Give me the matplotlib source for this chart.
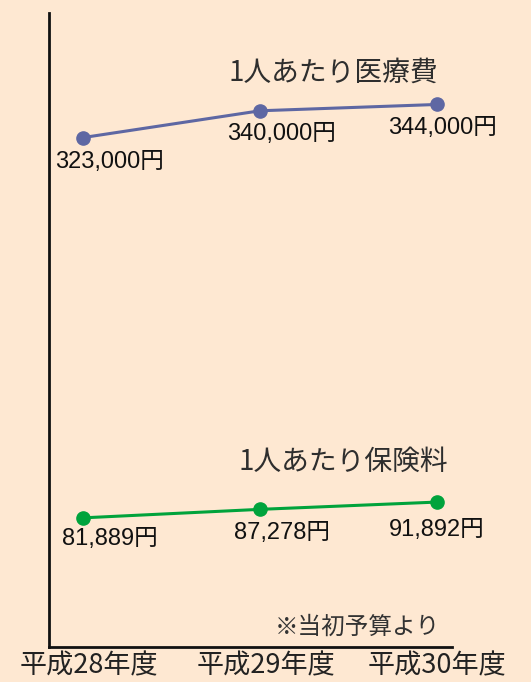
import matplotlib
matplotlib.use("Agg")
import matplotlib.pyplot as plt

years = ["平成28年度", "平成29年度", "平成30年度"]
medical = [323000, 340000, 344000]
premium = [81889, 87278, 91892]
medical_title = "1人あたり医療費"
premium_title = "1人あたり保険料"
note = "※当初予算より"

W, H = 531, 682
BG = "#FEE8D2"
fig = plt.figure(figsize=(W / 100, H / 100), dpi=100, facecolor=BG)
ax = fig.add_axes([49 / W, 35 / H, (452 - 49) / W, (647 - 13) / H])
ax.set_facecolor(BG)

x = list(range(len(years)))
ax.plot(x, medical, color="#5E67A3", lw=2.2, marker="o", ms=9.5, zorder=3)
ax.plot(x, premium, color="#00A33C", lw=2.2, marker="o", ms=9.5, zorder=3)

ax.set_xlim(-0.192, 2.085)
ax.set_ylim(0, 402000)

for s in ["top", "right"]:
    ax.spines[s].set_visible(False)
for s in ["left", "bottom"]:
    ax.spines[s].set_color("#111111")
    ax.spines[s].set_linewidth(2.0)
ax.set_yticks([])
ax.set_xticks([])

num_font = ["Liberation Sans", "Noto Sans CJK JP"]
med_off = [(27, -24), (22, -23), (6, -24)]
pre_off = [(27, -21), (22, -24), (0, -28)]
for xi, v, off in zip(x, medical, med_off):
    ax.annotate(f"{v:,}円", (xi, v), xytext=off, textcoords="offset pixels",
                ha="center", va="center", fontsize=17, family=num_font, color="#111111")
for xi, v, off in zip(x, premium, pre_off):
    ax.annotate(f"{v:,}円", (xi, v), xytext=off, textcoords="offset pixels",
                ha="center", va="center", fontsize=17, family=num_font, color="#111111")

cjk = ["Noto Sans CJK JP", "DejaVu Sans"]
fig.text(333 / W, 1 - 73 / H, medical_title, ha="center", va="center",
         fontsize=20, family=cjk, color="#2E2E2E")
fig.text(343 / W, 1 - 461.5 / H, premium_title, ha="center", va="center",
         fontsize=20, family=cjk, color="#2E2E2E")
fig.text(357 / W, 1 - 627 / H, note, ha="center", va="center",
         fontsize=17, family=cjk, color="#333333")

label_x = [89, 266, 437]
for lx, lab in zip(label_x, years):
    fig.text(lx / W, 1 - 666 / H, lab, ha="center", va="center",
             fontsize=19.5, family=cjk, color="#222222")

fig.savefig("out.png", dpi=100, facecolor=BG)
